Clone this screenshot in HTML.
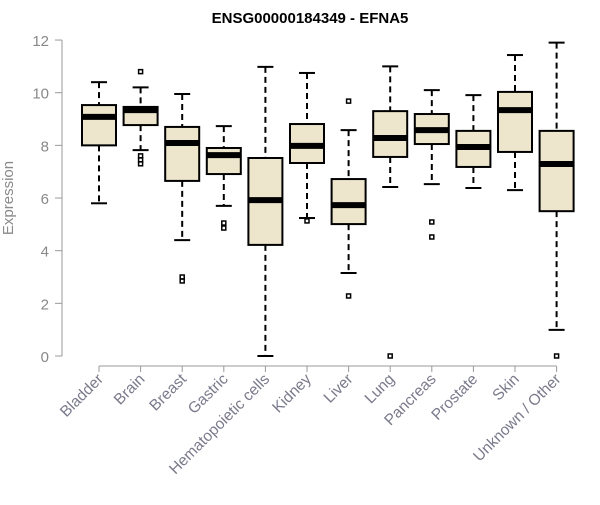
<!DOCTYPE html>
<html><head><meta charset="utf-8"><style>
body{margin:0;background:#fff}
svg{font-family:"Liberation Sans",Arial,sans-serif}
</style></head><body>
<svg id="chart" width="600" height="500">
<text x="310" y="23" text-anchor="middle" font-weight="bold" font-size="15">ENSG00000184349 - EFNA5</text>
<text transform="translate(13,198) rotate(-90)" text-anchor="middle" font-size="15" fill="#8a8a8a">Expression</text>
<g id="axis"></g><g id="boxes"></g>
</svg>
<script>
const categories=["Bladder","Brain","Breast","Gastric","Hematopoietic cells","Kidney","Liver","Lung","Pancreas","Prostate","Skin","Unknown / Other"];
const whiskerHigh=[10.4,10.2,9.95,8.73,10.98,10.75,8.58,11.0,10.1,9.91,11.43,11.9];
const q3=[9.53,9.46,8.7,7.9,7.52,8.81,6.72,9.3,9.19,8.55,10.03,8.55];
const medians=[9.08,9.34,8.09,7.63,5.92,7.98,5.73,8.28,8.58,7.94,9.34,7.29];
const q1=[8.0,8.77,6.65,6.91,4.22,7.33,5.01,7.56,8.05,7.18,7.75,5.5];
const whiskerLow=[5.8,7.82,4.4,5.7,0,5.24,3.15,6.42,6.53,6.38,6.3,0.99];
const outliers=[[],[10.8,7.6,7.45,7.3],[3.0,2.85],[5.05,4.86],[],[5.13],[9.68,2.28],[0],[5.09,4.52],[],[],[0]];
const yTicks=[0,2,4,6,8,10,12];
const NS="http://www.w3.org/2000/svg";
const y=v=>356-v*26.33;
const x=i=>99+i*41.6;
function mk(tag,attrs,parent){const e=document.createElementNS(NS,tag);for(const k in attrs)e.setAttribute(k,attrs[k]);parent.appendChild(e);return e;}
const ax=document.getElementById('axis'), bx=document.getElementById('boxes');
const yl=mk('line',{x1:62,x2:62,y1:y(0),y2:y(12),stroke:'#999'},ax);


yTicks.forEach(t=>{
 mk('line',{x1:55,x2:62,y1:y(t),y2:y(t),stroke:'#999'},ax);
 const tx=mk('text',{x:49,y:y(t)+6,'text-anchor':'end','font-size':15,fill:'#888'},ax);tx.textContent=t;
 
 
});
const xl=mk('line',{x1:x(0),x2:x(11),y1:366,y2:366,stroke:'#999'},ax);


categories.forEach((c,i)=>{
 const cx=x(i),w=17;
 mk('line',{x1:cx,x2:cx,y1:366,y2:372,stroke:'#999'},ax);
 const lb=mk('text',{transform:`translate(${cx+5},${380}) rotate(-45)`,'text-anchor':'end','font-size':15.5,fill:'#7a7a8c'},ax);lb.textContent=c;
 
 
 const g=mk('g',{},bx);
 
 
 mk('line',{x1:cx,x2:cx,y1:y(whiskerHigh[i]),y2:y(q3[i]),stroke:'#000','stroke-width':2,'stroke-dasharray':'6,4'},g);
 mk('line',{x1:cx,x2:cx,y1:y(q1[i]),y2:y(whiskerLow[i]),stroke:'#000','stroke-width':2,'stroke-dasharray':'6,4'},g);
 mk('line',{x1:cx-8,x2:cx+8,y1:y(whiskerHigh[i]),y2:y(whiskerHigh[i]),stroke:'#000','stroke-width':2},g);
 mk('line',{x1:cx-8,x2:cx+8,y1:y(whiskerLow[i]),y2:y(whiskerLow[i]),stroke:'#000','stroke-width':2},g);
 mk('rect',{x:cx-w,y:y(q3[i]),width:2*w,height:y(q1[i])-y(q3[i]),fill:'#ede6cc',stroke:'#000','stroke-width':2},g);
 mk('line',{x1:cx-w,x2:cx+w,y1:y(medians[i]),y2:y(medians[i]),stroke:'#000','stroke-width':6},g);
 outliers[i].forEach(o=>mk('rect',{x:cx-2,y:y(o)-2,width:4,height:4,fill:'none',stroke:'#000','stroke-width':1.5},g));
});
</script>
</body></html>
